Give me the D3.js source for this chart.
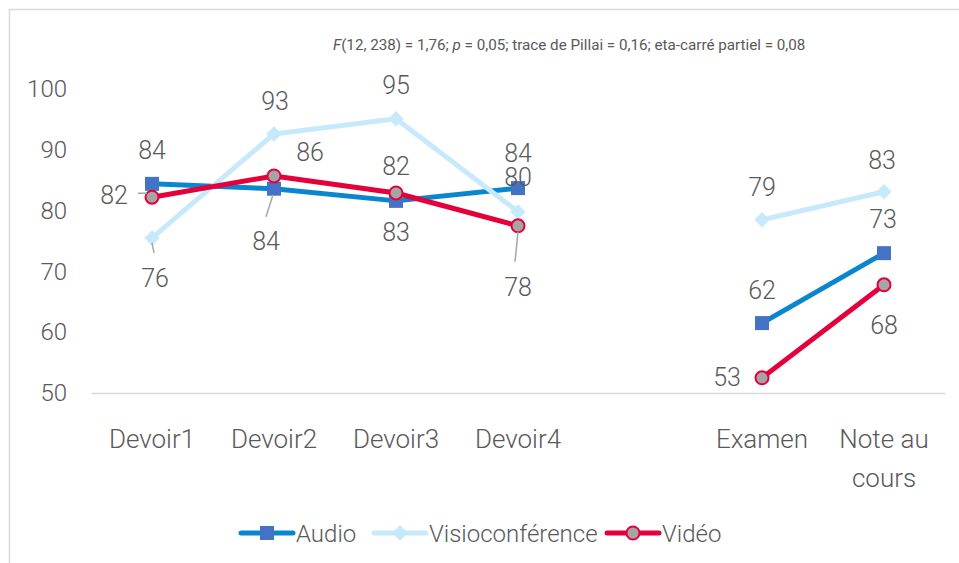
<!DOCTYPE html>
<html>
<head>
<meta charset="utf-8">
<script src="https://cdn.jsdelivr.net/npm/d3@7"></script>
<style>
  body { margin: 0; background: #fff; }
  svg { display: block; font-family: Roboto, "Open Sans", sans-serif; }
</style>
</head>
<body>
<svg id="chart" width="959" height="563"></svg>
<script>
// categories (the empty one is the gap between Devoir4 and Examen)
var categories = ['Devoir1', 'Devoir2', 'Devoir3', 'Devoir4', '', 'Examen', 'Note au cours'];
var yTicks = [50, 60, 70, 80, 90, 100];

var audio  = [84.4, 83.6, 81.6, 83.7, null, 61.5, 73.0];
var visio  = [75.5, 92.6, 95.1, 79.8, null, 78.5, 83.1];
var video  = [82.2, 85.7, 82.9, 77.5, null, 52.5, 67.8];

// labels as printed on the chart
var audioLabels = ['84', '84', '83', '84', null, '62', '73'];
var visioLabels = ['76', '93', '95', '80', null, '79', '83'];
var videoLabels = ['82', '86', '82', '78', null, '53', '68'];

var title = [
	{t: 'F', i: true}, {t: '(12, 238) = 1,76; '}, {t: 'p', i: true},
	{t: ' = 0,05; trace de Pillai = 0,16; eta-carré partiel = 0,08'}
];

var svg = d3.select('#chart');
var grey = '#595959';

// frame (the chart area goes on past the right and bottom edges)
svg.append('rect')
	.attr('x', 9.5).attr('y', 9.5)
	.attr('width', 980).attr('height', 600)
	.attr('fill', 'none')
	.attr('stroke', '#d9d9d9')
	.attr('stroke-width', 1.5);

// title
var tt = svg.append('text')
	.attr('x', 333).attr('y', 50)
	.attr('fill', grey)
	.style('font-size', '15.2px');
tt.selectAll('tspan').data(title).enter().append('tspan')
	.style('font-style', function(d) { return d.i ? 'italic' : null; })
	.text(function(d) { return d.t; });

var x = d3.scaleBand().domain(categories).range([91, 945]).padding(0);
var y = d3.scaleLinear().domain([50, 100]).range([393, 89]);
function cx(i) { return x(categories[i]) + x.bandwidth() / 2; }

// y axis
var yAxis = svg.append('g')
	.attr('transform', 'translate(67,0)')
	.call(d3.axisLeft(y).tickValues(yTicks).tickSize(0).tickPadding(0));
yAxis.select('.domain').remove();
yAxis.selectAll('text')
	.attr('fill', grey)
	.style('font-size', '24px')
	.style('font-weight', 300)
	.style('font-family', 'Roboto, sans-serif');

// x axis
var xAxis = svg.append('g')
	.attr('transform', 'translate(0,393)')
	.call(d3.axisBottom(x).tickSize(0).tickPadding(0));
xAxis.select('.domain')
	.attr('stroke', '#d9d9d9')
	.attr('stroke-width', 1.5);
xAxis.selectAll('text')
	.attr('fill', grey)
	.attr('y', 0)
	.attr('dy', null)
	.style('font-size', '26px')
	.style('font-weight', 300)
	.style('font-family', 'Roboto, sans-serif')
	.each(function(d) {
		var el = d3.select(this);
		var words = d.split(' ');
		el.text(null);
		if (words.length < 3) { el.append('tspan').attr('x', 0).attr('y', 55).text(d); return; }
		el.append('tspan').attr('x', 0).attr('y', 55).text(words.slice(0, 2).join(' '));
		el.append('tspan').attr('x', 0).attr('y', 94).text(words.slice(2).join(' '));
	});

// series
var series = [
	{name: 'Audio', values: audio, labels: audioLabels, color: '#0a86cf', marker: 'square',
		off: [[0,-34],[-8,52],[0,31],[0,-35],null,[0,-33],[-1,-34]],
		leaders: {1: [[-8,28],[-1,6]]}},
	{name: 'Visioconférence', values: visio, labels: visioLabels, color: '#c6e9fb', marker: 'diamond',
		off: [[3,40],[1,-33],[0,-34],[0,-35],null,[0,-33],[-2,-32]],
		leaders: {0: [[2,15],[0,5]]}},
	{name: 'Vidéo', values: video, labels: videoLabels, color: '#e4003b', marker: 'circle',
		off: [[-38,-2],[36,-24],[0,-27],[0,61],null,[-35,-1],[0,40]],
		leaders: {0: [[-14,-4],[-5,-4]], 3: [[-3,36],[0,6]]}}
];

var line = d3.line()
	.defined(function(d) { return d != null; })
	.x(function(d, i) { return cx(i); })
	.y(function(d) { return y(d); });

function drawMarker(g, type, px, py, color) {
	if (type === 'square') {
		g.append('rect').attr('x', px - 7).attr('y', py - 7).attr('width', 14).attr('height', 14)
			.attr('fill', '#4472c4');
	} else if (type === 'diamond') {
		g.append('path').attr('d', d3.symbol(d3.symbolDiamond2, 150)())
			.attr('transform', 'translate(' + px + ',' + py + ')')
			.attr('fill', color);
	} else {
		g.append('circle').attr('cx', px).attr('cy', py).attr('r', 6.5)
			.attr('fill', '#a5a5a5').attr('stroke', color).attr('stroke-width', 2);
	}
}

var plot = svg.append('g');
series.forEach(function(s) {
	plot.append('path')
		.datum(s.values)
		.attr('d', line)
		.attr('fill', 'none')
		.attr('stroke', s.color)
		.attr('stroke-width', 5)
		.attr('stroke-linejoin', 'round');
});
series.forEach(function(s) {
	var g = plot.append('g');
	s.values.forEach(function(v, i) {
		if (v == null) return;
		drawMarker(g, s.marker, cx(i), y(v), s.color);
	});
});

// data labels + leader lines
var labelG = svg.append('g');
series.forEach(function(s) {
	s.values.forEach(function(v, i) {
		if (v == null) return;
		var px = cx(i), py = y(v), o = s.off[i];
		if (s.leaders[i]) {
			var l = s.leaders[i];
			labelG.append('line')
				.attr('x1', px + l[0][0]).attr('y1', py + l[0][1])
				.attr('x2', px + l[1][0]).attr('y2', py + l[1][1])
				.attr('stroke', '#a6a6a6').attr('stroke-width', 1.5);
		}
		labelG.append('text')
			.attr('x', px + o[0]).attr('y', py + o[1])
			.attr('dy', '0.36em')
			.attr('text-anchor', 'middle')
			.attr('fill', grey)
			.style('font-size', '25px')
			.style('font-weight', 300)
			.text(s.labels[i]);
	});
});

// legend
var legendX = [241, 374, 607];
var legend = svg.append('g');
series.forEach(function(s, k) {
	var lx = legendX[k], ly = 533;
	var g = legend.append('g');
	g.append('line').attr('x1', lx).attr('x2', lx + 52).attr('y1', ly).attr('y2', ly)
		.attr('stroke', s.color).attr('stroke-width', 5).attr('stroke-linecap', 'round');
	drawMarker(g, s.marker, lx + 26, ly, s.color);
	g.append('text').attr('x', lx + 55).attr('y', ly).attr('dy', '0.36em')
		.attr('fill', grey)
		.style('font-size', '24px')
		.style('font-weight', 300)
		.text(s.name);
});
</script>
</body>
</html>
